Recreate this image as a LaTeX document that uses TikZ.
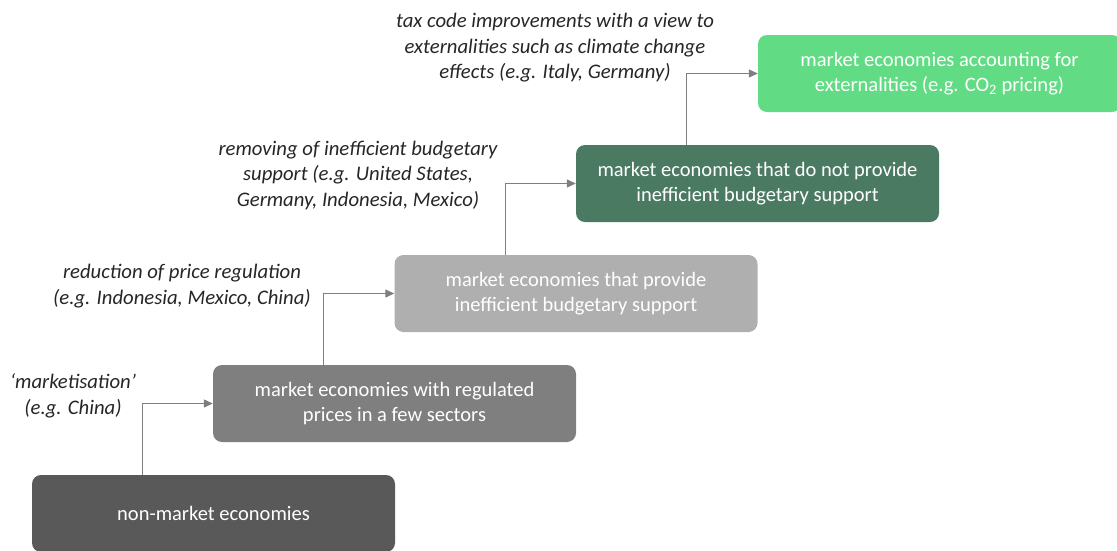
\documentclass[tikz,border=0pt]{standalone}
\usepackage{fontspec}
\setmainfont{Carlito}
\usetikzlibrary{arrows.meta}
\definecolor{stepA}{HTML}{595959}
\definecolor{stepB}{HTML}{7F7F7F}
\definecolor{stepC}{HTML}{AFAFAF}
\definecolor{stepD}{HTML}{4B7A63}
\definecolor{stepE}{HTML}{62DC84}
\definecolor{linegray}{HTML}{7F7F7F}
\tikzset{
	stairbox/.style = {rounded corners = 9pt, minimum width = 363pt, minimum height = 77pt, text = white, align = center, font = \fontsize{20.5}{25}\selectfont},
	note/.style = {align = center, text = black!85, font = \fontsize{20.7}{25.5}\selectfont\itshape},
	flow/.style = {draw = linegray, line width = 1.3pt, -{Triangle[length = 9pt, width = 8pt]}}
}
\begin{document}
\begin{tikzpicture}[x = 1pt, y = -1pt]
		\useasboundingbox (0, 0) rectangle (1117, 550);
		\begin{scope}
		\clip (0, 0) rectangle (1117, 550);
		% the five steps
		\node[stairbox, fill = stepA] (nonmarket) at (213.5, 513.5) {non-market economies};
		\node[stairbox, fill = stepB] (regulated) at (394.5, 403.5) {market economies with regulated\\prices in a few sectors};
		\node[stairbox, fill = stepC] (support) at (576, 293.5) {market economies that provide\\inefficient budgetary support};
		\node[stairbox, fill = stepD] (nosupport) at (757.5, 183.5) {market economies that do not provide\\inefficient budgetary support};
		\node[stairbox, fill = stepE] (external) at (939.5, 73.5) {market economies accounting for\\externalities (e.g. CO\textsubscript{2} pricing)};
		\end{scope}
		% steps up
		\foreach \from/\to in {nonmarket/regulated, regulated/support, support/nosupport, nosupport/external}{
			\draw[flow] ([xshift = 111pt]\from.north west) |- (\to.west);}
		% what moves a country up
		\node[note] (marketisation) at (73, 396) {‘marketisation’\\(e.g. China)};
		\node[note] (pricereg) at (182, 286) {reduction of price regulation\\(e.g. Indonesia, Mexico, China)};
		\node[note] (removing) at (358, 175) {removing of inefficient budgetary\\support (e.g. United States,\\Germany, Indonesia, Mexico)};
		\node[note] (taxcode) at (555, 48) {tax code improvements with a view to\\externalities such as climate change\\effects (e.g. Italy, Germany)};
\end{tikzpicture}
\end{document}
